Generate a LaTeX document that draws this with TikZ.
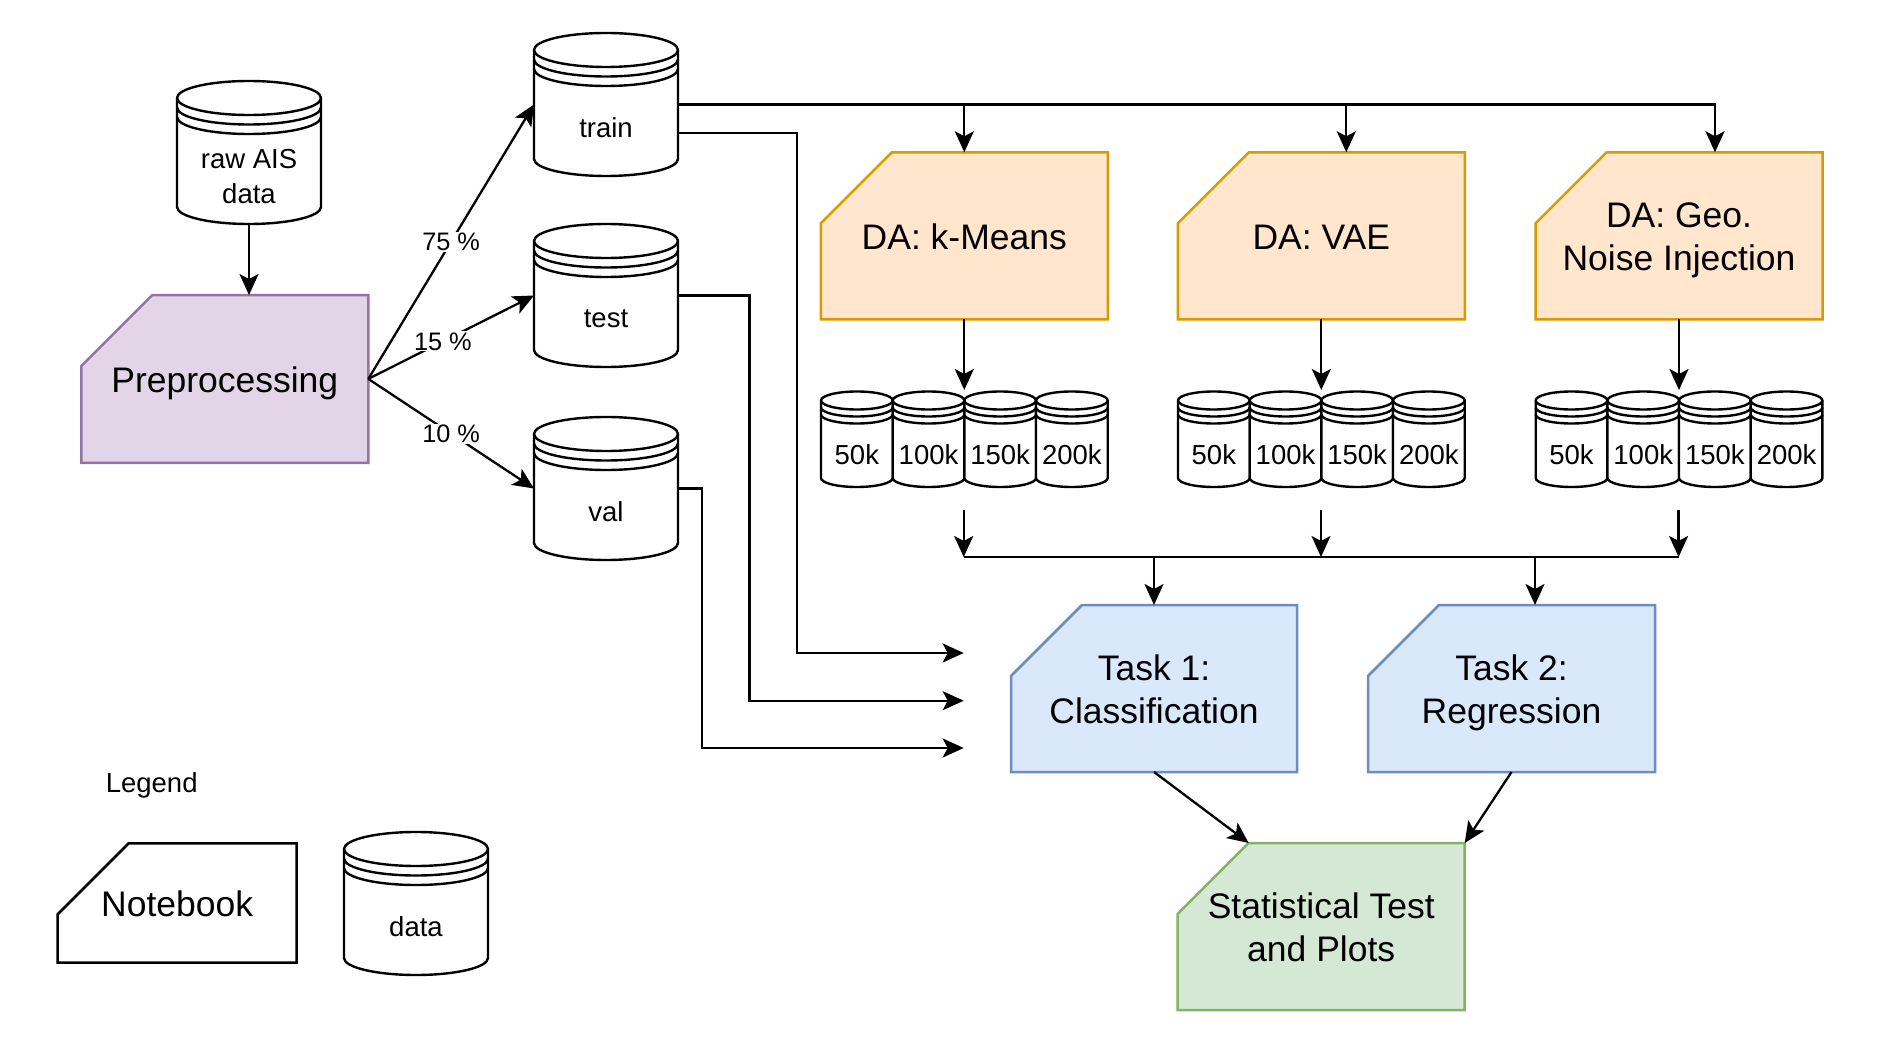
\documentclass[tikz,border=0pt]{standalone}
\usepackage{fontspec}
\setmainfont{Liberation Sans}
\usetikzlibrary{arrows.meta,backgrounds,calc}
\definecolor{orfill}{HTML}{FFE6CC}
\definecolor{ordraw}{HTML}{D79B00}
\definecolor{pufill}{HTML}{E1D5E7}
\definecolor{pudraw}{HTML}{9673A6}
\definecolor{blfill}{HTML}{DAE8FC}
\definecolor{bldraw}{HTML}{6C8EBF}
\definecolor{grfill}{HTML}{D5E8D4}
\definecolor{grdraw}{HTML}{82B366}
\newcommand\bigstrut{\rule[-8.2pt]{0pt}{43.4pt}}
\tikzset{
  big/.style={font=\fontsize{35.5}{43.4}\selectfont},
  small/.style={font=\fontsize{27.5}{35}\selectfont},
  pct/.style={fill=white,inner sep=1pt,font=\fontsize{25.3}{30}\selectfont},
  dsline/.style={draw=black,line width=2.4pt,fill=white},
  arr/.style={draw=black,line width=2.3pt,-{Stealth[length=21pt,width=19pt,inset=5pt]}},
  plain/.style={draw=black,line width=2.3pt},
  boxnode/.style={inner sep=0pt,outer sep=0pt,align=center}
}
% datastore: name, left, top, width, height, ry, gap, text
\newcommand\dstore[8]{%
  \pgfmathsetmacro\dsrx{#4/2}%
  \path[dsline] (#2,#3+#6) -- (#2,#3+#5-#6)
     arc[start angle=180,end angle=360,x radius=\dsrx pt,y radius=#6pt]
     -- (#2+#4,#3+#6)
     arc[start angle=0,end angle=180,x radius=\dsrx pt,y radius=#6pt] -- cycle;
  \draw[line width=2.4pt] (#2,#3+#6) arc[start angle=180,end angle=360,x radius=\dsrx pt,y radius=#6pt];
  \draw[line width=2.4pt] (#2,#3+#6+#7) arc[start angle=180,end angle=360,x radius=\dsrx pt,y radius=#6pt];
  \draw[line width=2.4pt] (#2,#3+#6+2*#7) arc[start angle=180,end angle=360,x radius=\dsrx pt,y radius=#6pt];
  \node[boxnode,minimum width=#4pt,minimum height=#5pt] (#1) at (#2+#4/2,#3+#5/2) {};
  \node[boxnode,small] (#1t) at (#2+#4/2,#3+0.665*#5) {#8};
}
% notebook: name, cx, cy, w, h, fill, draw, text
\newcommand\nbk[8]{%
  \node[boxnode,big,minimum width=#4pt,minimum height=#5pt] (#1) at (#2,#3) {\bigstrut#8\bigstrut};
  \begin{pgfonlayer}{background}
  \path[fill=#6,draw=#7,line width=2.5pt] ([xshift=71pt]#1.north west) -- (#1.north east)
     -- (#1.south east) -- (#1.south west) -- ([yshift=-71pt]#1.north west) -- cycle;
  \end{pgfonlayer}
}
\begin{document}
\begin{tikzpicture}[x=1pt,y=-1pt]
\useasboundingbox (0,0) rectangle (1896,1064);

% data stores
\dstore{raw}{177}{81}{144}{143}{17}{9.5}{raw AIS\\data}
\dstore{train}{534}{33}{144}{143}{17}{9.5}{train}
\dstore{test}{534}{224}{144}{143}{17}{9.5}{test}
\dstore{val}{534}{417}{144}{143}{17}{9.5}{val}
\dstore{legdata}{344}{832}{144}{143}{17}{9.5}{data}

% notebooks
\nbk{pre}{224.8}{378.9}{287}{167.7}{pufill}{pudraw}{Preprocessing}
\nbk{km}{964.3}{235.8}{287}{167}{orfill}{ordraw}{DA: k-Means}
\nbk{vae}{1321.3}{235.8}{287}{167}{orfill}{ordraw}{DA: VAE}
\nbk{geo}{1679}{235.8}{287}{167}{orfill}{ordraw}{DA: Geo.\\Noise Injection}
\nbk{t1}{1154}{688.5}{286}{167}{blfill}{bldraw}{Task 1:\\Classification}
\nbk{t2}{1511.5}{688.5}{287}{167}{blfill}{bldraw}{Task 2:\\Regression}
\nbk{stat}{1321.2}{926.5}{287}{167}{grfill}{grdraw}{Statistical Test\\and Plots}
\nbk{legnb}{177.2}{903}{239}{119.4}{white}{black}{Notebook}

% augmented data sets
\dstore{kma}{821}{391.5}{71.7}{95.5}{9}{7}{50k}
\dstore{kmb}{892.7}{391.5}{71.7}{95.5}{9}{7}{100k}
\dstore{kmc}{964.3}{391.5}{71.7}{95.5}{9}{7}{150k}
\dstore{kmd}{1036}{391.5}{71.7}{95.5}{9}{7}{200k}
\dstore{vaea}{1178}{391.5}{71.7}{95.5}{9}{7}{50k}
\dstore{vaeb}{1249.7}{391.5}{71.7}{95.5}{9}{7}{100k}
\dstore{vaec}{1321.3}{391.5}{71.7}{95.5}{9}{7}{150k}
\dstore{vaed}{1393}{391.5}{71.7}{95.5}{9}{7}{200k}
\dstore{geoa}{1535.7}{391.5}{71.7}{95.5}{9}{7}{50k}
\dstore{geob}{1607.4}{391.5}{71.7}{95.5}{9}{7}{100k}
\dstore{geoc}{1679}{391.5}{71.7}{95.5}{9}{7}{150k}
\dstore{geod}{1750.7}{391.5}{71.7}{95.5}{9}{7}{200k}

\node[small] (legend) at (151.7,785) {Legend};

% coordinates for free ends
\coordinate (kmg) at (964.3,390);
\coordinate (vaeg) at (1321.3,390);
\coordinate (geog) at (1679,390);
\coordinate (s1) at (963.7,510);
\coordinate (s2) at (1321,510);
\coordinate (s3) at (1678.6,510);
\coordinate (j1) at (963.7,557);
\coordinate (j3) at (1678.6,557);
\coordinate (in1) at (963.7,653);
\coordinate (in2) at (963.7,700.7);
\coordinate (in3) at (963.7,748);

% connectors
\draw[arr] (raw.south) -- (raw.south |- pre.north);
\draw[arr] (pre.east) -- node[pct,pos=0.5]{75 \%} (train.west);
\draw[arr] (pre.east) -- node[pct,pos=0.45]{15 \%} (test.west);
\draw[arr] (pre.east) -- node[pct,pos=0.5]{10 \%} (val.west);

\draw[arr] (train.east) -| ([xshift=36pt]geo.north);
\draw[arr] (train.east -| km.north) -- (km.north);
\draw[arr] (train.east -| vae.north) ++(25,0) -- ([xshift=25pt]vae.north);

\draw[arr] ([yshift=-28.5pt]train.east) -- ++(119,0) |- (in1);
\draw[arr] (test.east) -- ++(71.5,0) |- (in2);
\draw[arr] (val.east) -- ++(23.8,0) |- (in3);

\draw[arr] (km.south) -- (kmg);
\draw[arr] (vae.south) -- (vaeg);
\draw[arr] (geo.south) -- (geog);

\draw[arr] (s1) -- (j1);
\draw[arr] (s2) -- (s2 |- j1);
\draw[arr] (s3) -- (j3);
\draw[plain] (j1) -- (j3);
\draw[arr] (t1.north |- j1) -- (t1.north);
\draw[arr] ([xshift=23.5pt]t2.north |- j1) -- ([xshift=23.5pt]t2.north);

\draw[arr] (t1.south) -- ([xshift=71pt]stat.north west);
\draw[arr] (t2.south) -- (stat.north east);
\end{tikzpicture}
\end{document}
